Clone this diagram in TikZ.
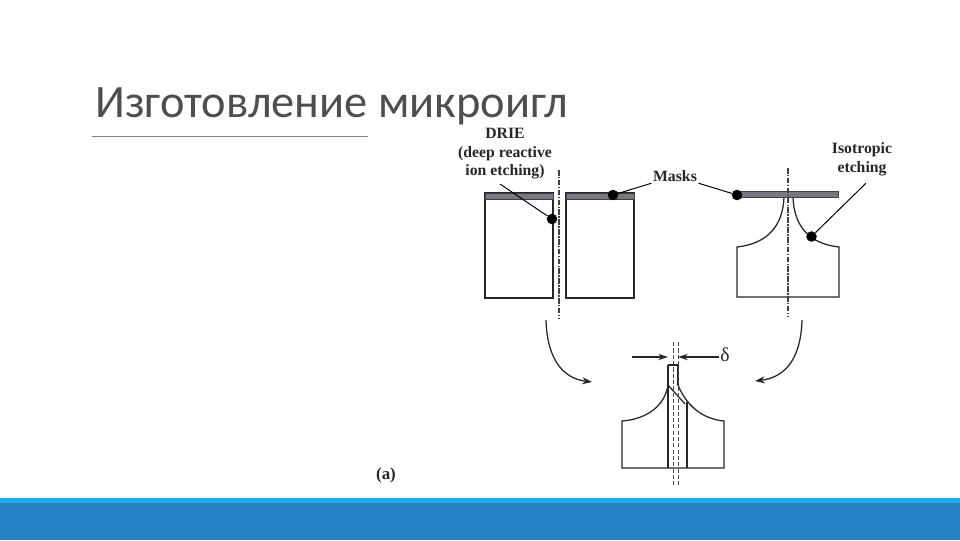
\documentclass[tikz,border=0pt]{standalone}
\usepackage{fontspec}
\setmainfont{Liberation Serif}
\newfontfamily\titlefont{Carlito}
\usepackage{tikz}
\definecolor{bandlight}{HTML}{1CADE4}
\definecolor{banddark}{HTML}{2683C6}
\definecolor{titlegray}{RGB}{78,78,78}
\definecolor{maskgray}{RGB}{120,120,130}
\usetikzlibrary{arrows.meta}
\pgfdeclarelayer{edgelayer}
\pgfdeclarelayer{nodelayer}
\pgfsetlayers{edgelayer,nodelayer,main}
\tikzstyle{dot}=[circle,fill=black,inner sep=0pt,minimum size=7.5pt]
\tikzstyle{label}=[font=\fontsize{11.2}{13.2}\selectfont\bfseries,align=center,inner sep=1pt,text=black!85]
\tikzstyle{block}=[draw=black!85,line width=0.9pt]
\tikzstyle{mask}=[draw=black!75,fill=maskgray,line width=0.5pt]
\tikzstyle{axis}=[black!75,line width=0.9pt,dash pattern=on 4pt off 1pt on 1pt off 1pt]
\tikzstyle{leader}=[black,line width=0.7pt]
\tikzstyle{move}=[-{Stealth[length=7pt,width=5pt]},black!85,line width=0.9pt]
\tikzstyle{gap}=[-{Stealth[length=7pt,width=4.5pt]},black!85,line width=1pt]

\begin{document}
\begin{tikzpicture}[x=0.025cm,y=-0.025cm]
        \useasboundingbox (0, 0) rectangle (960, 540);

        \fill [banddark] (0, 498) rectangle (960, 540);
        \fill [bandlight] (0, 498) rectangle (960, 503);

        \begin{pgfonlayer}{nodelayer}
            \node [anchor=base west, inner sep=0pt, text=titlegray, font=\titlefont\fontsize{33}{36}\selectfont] (title) at (95, 117) {Изготовление микроигл};

            \node [style = label] (drie) at (505, 154) {DRIE\\(deep reactive\\ion etching)};
            \node [style = label] (masks) at (675, 176) {Masks};
            \node [style = label] (iso) at (862, 159) {Isotropic\\etching};
            \node [style = label, font=\fontsize{14}{15}\selectfont] (delta) at (725, 355) {δ};
            \node [style = label, font=\fontsize{12}{13}\selectfont\bfseries] (parta) at (386, 475) {(a)};

            \node [style = dot] (dotdrie) at (552, 219) {};
            \node [style = dot] (dotmaskb) at (613, 195) {};
            \node [style = dot] (dotmaskc) at (737, 195) {};
            \node [style = dot] (dotiso) at (811.5, 236.5) {};
        \end{pgfonlayer}

        \begin{pgfonlayer}{edgelayer}
            \draw [gray, line width=0.6pt] (92, 136) to (368, 136);

            % two straight blocks
            \draw [style = block] (485, 193) rectangle (553, 298);
            \draw [style = block] (566, 193) rectangle (634, 298);
            \draw [style = mask] (485, 193) rectangle (553, 199);
            \draw [style = mask] (566, 193) rectangle (634, 199);
            \draw [style = axis] (559, 170) to (559, 318);

            % etched block
            \draw [style = block] (784, 197) .. controls (783, 228) and (765, 244) .. (737, 247) to (737, 297) to (839, 297) to (839, 247) .. controls (811, 244) and (794, 228) .. (793, 197);
            \draw [style = mask] (737, 191) rectangle (838, 197);
            \draw [style = axis] (788, 168) to (788, 317);

            % finished needle
            \draw [style = block] (668, 385) .. controls (665, 405) and (648, 419) .. (622, 421) to (622, 468) to (724, 468) to (724, 421) .. controls (702, 419) and (686, 405) .. (678, 385);
            \draw [block, line width=1.4pt] (668, 365) to (668, 468);
            \draw [style = block] (668, 365) to (678, 365) to (678, 385);
            \draw [style = block] (668, 385) to (685, 404);
            \draw [style = block] (687, 402) to (687, 468);
            \draw [black!70, line width=0.6pt, dash pattern=on 3pt off 1.5pt] (673, 342) to (673, 487);
            \draw [black!70, line width=0.6pt, dash pattern=on 3pt off 1.5pt] (678, 342) to (678, 487);

            % width marks
            \coordinate (markl) at (632, 357);
            \coordinate (markr) at (668, 357);
            \coordinate (marks) at (678, 357);
            \draw [style = gap] (markl) to (markr);
            \draw [style = gap] (delta.west |- marks) to (marks);

            % leaders
            \draw [style = leader] ([shift={(-3.5pt,-2.1pt)}]drie.south) to (dotdrie);
            \draw [style = leader] (masks) to (dotmaskb);
            \draw [style = leader] (masks) to (dotmaskc);
            \draw [style = leader] ([shift={(2.8pt,-4.3pt)}]iso.south) to (dotiso);

            % assembly arrows
            \coordinate (fromleft) at (546, 320);
            \coordinate (toleft) at (592, 382);
            \coordinate (fromright) at (802, 320);
            \coordinate (toright) at (755, 381);
            \draw [style = move] (fromleft) .. controls (547, 355) and (560, 378) .. (toleft);
            \draw [style = move] (fromright) .. controls (801, 355) and (788, 377) .. (toright);
        \end{pgfonlayer}
\end{tikzpicture}
\end{document}
